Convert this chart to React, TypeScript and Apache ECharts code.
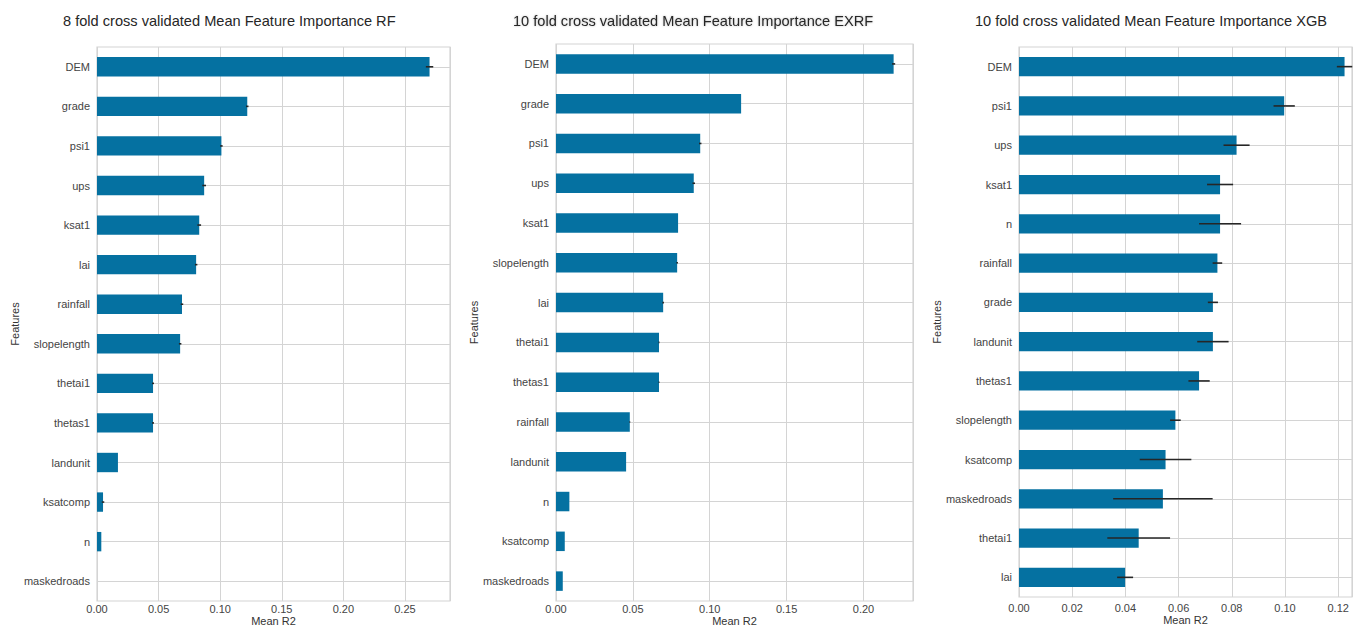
import React, { useEffect, useRef } from "react";
import * as echarts from "echarts";

const rfCats = ["DEM", "grade", "psi1", "ups", "ksat1", "lai", "rainfall", "slopelength", "thetai1", "thetas1", "landunit", "ksatcomp", "n", "maskedroads"];
const rfVals = [0.270, 0.122, 0.101, 0.087, 0.083, 0.0805, 0.069, 0.0675, 0.0455, 0.0455, 0.017, 0.0049, 0.0035, 0];
const rfErr = [0.003, 0.001, 0.001, 0.0015, 0.0015, 0.001, 0.001, 0.001, 0.0008, 0.0008, 0, 0.001, 0, 0];

const exCats = ["DEM", "grade", "psi1", "ups", "ksat1", "slopelength", "lai", "thetai1", "thetas1", "rainfall", "landunit", "n", "ksatcomp", "maskedroads"];
const exVals = [0.2196, 0.1204, 0.0938, 0.0896, 0.0794, 0.0788, 0.0697, 0.067, 0.067, 0.048, 0.0456, 0.0087, 0.0057, 0.0044];
const exErr = [0.001, 0, 0.0008, 0.0008, 0, 0.0005, 0.0005, 0.0003, 0.0003, 0.0003, 0, 0, 0, 0];

const xgbCats = ["DEM", "psi1", "ups", "ksat1", "n", "rainfall", "grade", "landunit", "thetas1", "slopelength", "ksatcomp", "maskedroads", "thetai1", "lai"];
const xgbVals = [0.1224, 0.0997, 0.0818, 0.0756, 0.0756, 0.0746, 0.0729, 0.0729, 0.0677, 0.0588, 0.0551, 0.0541, 0.045, 0.0399];
const xgbErr = [0.0029, 0.004, 0.0049, 0.0049, 0.0079, 0.0018, 0.0019, 0.0059, 0.004, 0.002, 0.0097, 0.0187, 0.0118, 0.003];

const titles = [
  "8 fold cross validated Mean Feature Importance RF",
  "10 fold cross validated Mean Feature Importance EXRF",
  "10 fold cross validated Mean Feature Importance XGB",
];
const xMax = [0.2866, 0.2322, 0.1252];
const xInterval = [0.05, 0.05, 0.02];
const xTitle = "Mean R2";
const yTitle = "Features";

const FONT = "'Liberation Sans', Arial, sans-serif";
const BAR = "#0571a1";

export default function App() {
  const ref = useRef<HTMLDivElement>(null);
  useEffect(() => {
    if (!ref.current) return;
    const chart = echarts.init(ref.current, null, { renderer: "svg" });
    const panels = [
      { cats: rfCats, vals: rfVals, err: rfErr },
      { cats: exCats, vals: exVals, err: exErr },
      { cats: xgbCats, vals: xgbVals, err: xgbErr },
    ];
    const grids = [
      { left: 97, top: 47, width: 353, height: 554 },
      { left: 556, top: 44, width: 357, height: 557 },
      { left: 1019, top: 47, width: 333, height: 550 },
    ];
    const labelMargins = [2, 2, 5];
    const nameGaps = [14, 14, 17];
    const titleLeft = [63, 513, 975];
    const option: any = {
      animation: false,
      backgroundColor: "#ffffff",
      textStyle: { fontFamily: FONT },
      title: titles.map((t, i) => ({
        text: t,
        left: titleLeft[i],
        top: 13,
        padding: 0,
        textStyle: {
          fontFamily: FONT,
          fontSize: 14.6,
          fontWeight: "normal",
          color: "#262626",
          textShadowColor: i === 1 ? "rgba(0,0,0,0.25)" : "transparent",
          textShadowBlur: i === 1 ? 2 : 0,
        },
      })),
      grid: grids.map((g) => ({
        ...g,
        show: true,
        borderColor: "#d4d4d4",
        borderWidth: 1.2,
        backgroundColor: "#ffffff",
        containLabel: false,
        outerBoundsMode: "none",
      })),
      xAxis: panels.map((_, i) => ({
        type: "value",
        gridIndex: i,
        min: 0,
        max: xMax[i],
        interval: xInterval[i],
        name: xTitle,
        nameLocation: "middle",
        nameGap: nameGaps[i],
        nameMoveOverlap: false,
        nameTextStyle: { fontFamily: FONT, fontSize: 11, color: "#333", lineHeight: 11 },
        axisLine: { show: false },
        axisTick: { show: false },
        axisLabel: {
          fontFamily: FONT,
          fontSize: 11,
          lineHeight: 11,
          color: "#444",
          margin: labelMargins[i],
          showMaxLabel: false,
          formatter: (v: number) => v.toFixed(2),
        },
        splitLine: { show: true, lineStyle: { color: "#d4d4d4", width: 1 } },
      })),
      yAxis: panels.map((p, i) => ({
        type: "category",
        gridIndex: i,
        data: p.cats,
        inverse: true,
        min: 0,
        max: p.cats.length - 1,
        name: yTitle,
        nameLocation: "middle",
        nameGap: 77,
        nameMoveOverlap: false,
        nameTextStyle: { fontFamily: FONT, fontSize: 11, color: "#333" },
        axisLine: { show: false },
        axisTick: { show: false, alignWithLabel: true },
        axisLabel: { fontFamily: FONT, fontSize: 11, color: "#444", margin: 7 },
        splitLine: { show: true, alignWithLabel: true, lineStyle: { color: "#d4d4d4", width: 1 } },
      })),
      series: [
        ...panels.map((p, i) => ({
          type: "bar",
          xAxisIndex: i,
          yAxisIndex: i,
          data: p.vals,
          barWidth: "49%",
          itemStyle: { color: BAR },
        })),
        ...panels.map((p, i) => ({
          type: "custom",
          xAxisIndex: i,
          yAxisIndex: i,
          dimensions: [
            { name: "cat", type: "ordinal" },
            { name: "lo", type: "float" },
            { name: "hi", type: "float" },
          ],
          data: p.vals.map((v, k) => [p.cats[k], v - p.err[k], v + p.err[k]]),
          encode: { y: 0, x: [1, 2] },
          renderItem: (params: any, api: any) => {
            const cat = p.cats[params.dataIndex];
            const lo = api.coord([api.value(1), cat]);
            const hi = api.coord([api.value(2), cat]);
            if (hi[0] - lo[0] < 0.5) return { type: "group", children: [] };
            return {
              type: "line",
              shape: { x1: lo[0], y1: lo[1], x2: hi[0], y2: hi[1] },
              style: { stroke: "#262626", lineWidth: 1.6 },
            };
          },
          z: 5,
        })),
      ],
    };
    chart.setOption(option);
    return () => chart.dispose();
  }, []);
  return (
    <div
      ref={ref}
      style={{ position: "absolute", left: 0, top: 0, width: 1362, height: 627 }}
    />
  );
}
